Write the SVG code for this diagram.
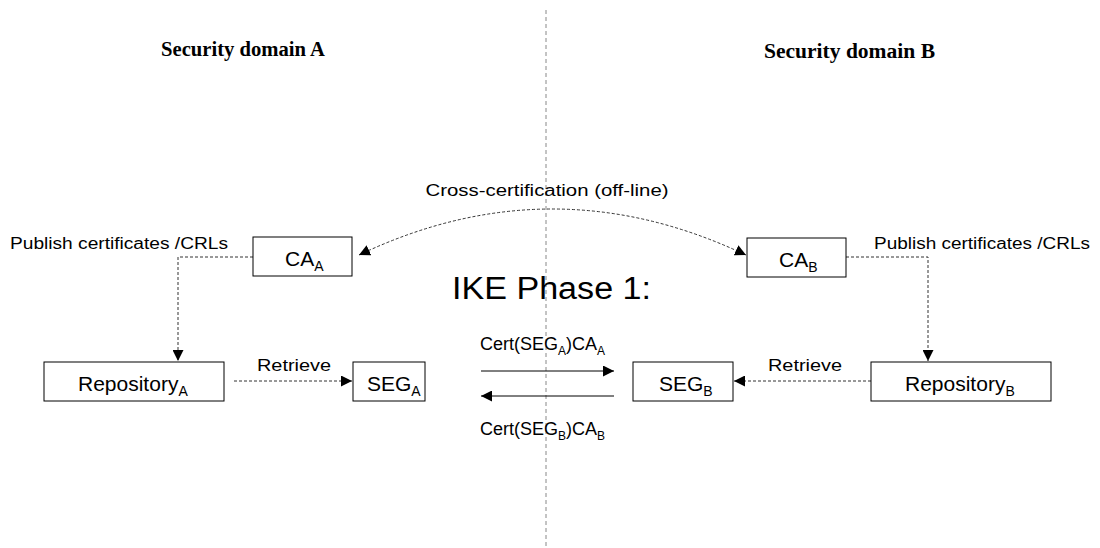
<svg xmlns="http://www.w3.org/2000/svg" width="1100" height="548" viewBox="0 0 1100 548">
<defs>
<marker id="ah" viewBox="0 0 10 10" refX="10" refY="5" markerWidth="11" markerHeight="11" markerUnits="userSpaceOnUse" orient="auto-start-reverse">
<path d="M0,0 L10,5 L0,10 z" fill="#000"/>
</marker>
<style>
.box{fill:#fff;stroke:#000;stroke-width:1}
.t{font-family:"Liberation Sans",Arial,sans-serif;fill:#000;font-size:21px}
.s{font-size:14px}
.lbl{font-family:"Liberation Sans",Arial,sans-serif;fill:#000;font-size:16px}
.hd{font-family:"Liberation Serif","Times New Roman",serif;font-weight:bold;font-size:20px;fill:#000}
.dash{fill:none;stroke:#333;stroke-width:1;stroke-dasharray:3,2}
.solid{fill:none;stroke:#000;stroke-width:1}
.c{font-family:"Liberation Sans",Arial,sans-serif;fill:#000;font-size:18px}
.cs{font-size:12px}
</style>
</defs>
<rect width="1100" height="548" fill="#fff"/>
<line x1="546" y1="10" x2="546" y2="548" stroke="#888" stroke-width="1" stroke-dasharray="4,3"/>
<text class="hd" x="161" y="56" textLength="164" lengthAdjust="spacingAndGlyphs">Security domain A</text>
<text class="hd" x="764" y="58" textLength="171" lengthAdjust="spacingAndGlyphs">Security domain B</text>
<g id="connectors">
<path class="dash" d="M253,257 H178 V361" marker-end="url(#ah)"/>
<path class="dash" d="M846,257 H928 V361" marker-end="url(#ah)"/>
<path class="dash" d="M234,381 H352" marker-end="url(#ah)"/>
<path class="dash" d="M871,381 H734" marker-end="url(#ah)"/>
<path class="dash" d="M359,255 Q552,163 746,255" marker-start="url(#ah)" marker-end="url(#ah)"/>
<path class="solid" d="M481,371 H614" marker-end="url(#ah)"/>
<path class="solid" d="M614,396 H481" marker-end="url(#ah)"/>
</g>
<text class="lbl" x="10" y="249" textLength="218" lengthAdjust="spacingAndGlyphs">Publish certificates /CRLs</text>
<text class="lbl" x="874" y="249" textLength="216" lengthAdjust="spacingAndGlyphs">Publish certificates /CRLs</text>
<text class="lbl" x="257" y="371" textLength="74" lengthAdjust="spacingAndGlyphs">Retrieve</text>
<text class="lbl" x="768" y="371" textLength="74" lengthAdjust="spacingAndGlyphs">Retrieve</text>
<text class="lbl" x="547" y="196" text-anchor="middle" textLength="243" lengthAdjust="spacingAndGlyphs">Cross-certification (off-line)</text>
<text x="452" y="299" font-family="'Liberation Sans',Arial,sans-serif" font-size="31" textLength="199" lengthAdjust="spacingAndGlyphs">IKE Phase 1:</text>
<text class="c" x="480" y="350">Cert(SEG<tspan class="cs" dy="5">A</tspan><tspan dy="-5">)CA</tspan><tspan class="cs" dy="5">A</tspan></text>
<text class="c" x="480" y="435">Cert(SEG<tspan class="cs" dy="5">B</tspan><tspan dy="-5">)CA</tspan><tspan class="cs" dy="5">B</tspan></text>
<g id="ca-a"><rect class="box" x="253" y="237" width="99" height="39"/><text class="t" x="285" y="266">CA<tspan class="s" dy="5">A</tspan></text></g>
<g id="ca-b"><rect class="box" x="747" y="238" width="99" height="39"/><text class="t" x="779" y="267">CA<tspan class="s" dy="5">B</tspan></text></g>
<g id="repo-a"><rect class="box" x="44" y="362" width="180" height="39"/><text class="t" x="78" y="391">Repository<tspan class="s" dy="5">A</tspan></text></g>
<g id="seg-a"><rect class="box" x="353" y="362" width="72" height="39"/><text class="t" x="367" y="391">SEG<tspan class="s" dy="5">A</tspan></text></g>
<g id="seg-b"><rect class="box" x="633" y="362" width="100" height="39"/><text class="t" x="659" y="391">SEG<tspan class="s" dy="5">B</tspan></text></g>
<g id="repo-b"><rect class="box" x="871" y="362" width="180" height="39"/><text class="t" x="905" y="391">Repository<tspan class="s" dy="5">B</tspan></text></g>
</svg>
